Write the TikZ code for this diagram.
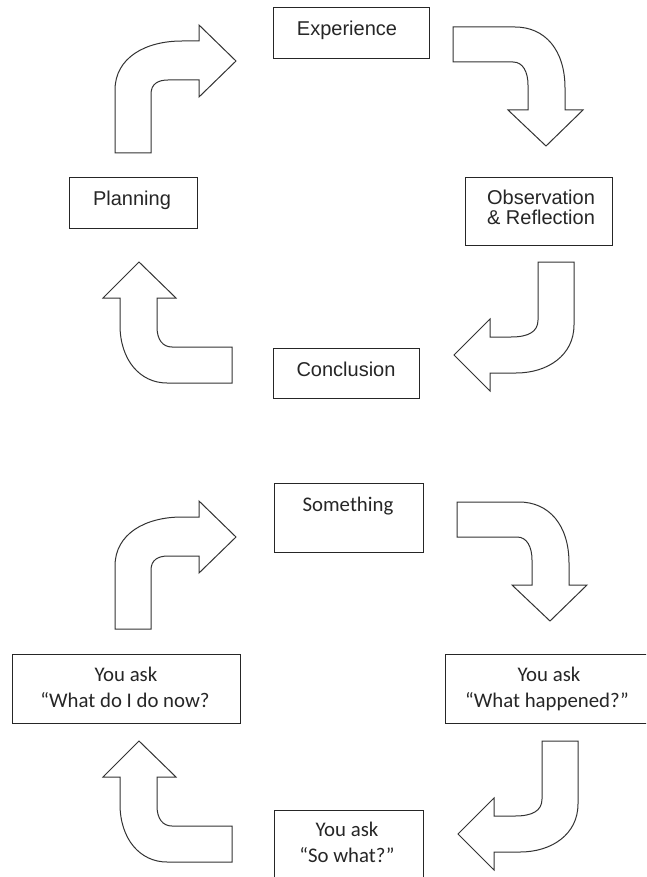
\documentclass[tikz,border=0pt]{standalone}
\usepackage{fontspec}
\setmainfont{Liberation Sans}
\newfontfamily\calfont{Carlito}
\begin{document}
\begin{tikzpicture}[x=1pt,y=-1pt,
  box/.style={draw=black!85, line width=1pt, fill=white, inner sep=0pt},
  bentarrow/.style={draw=black!80, line width=1pt, fill=white, line join=miter},
  ttxt/.style={font=\fontsize{20}{20}\selectfont, text=black!85, inner sep=0pt, anchor=base},
  btxt/.style={font=\calfont\fontsize{20.8}{20.8}\selectfont, text=black!85, inner sep=0pt, anchor=base},
  % the four bent block arrows of one cycle
  arrowup/.pic={\draw[bentarrow] (115,153) -- (115,90) .. controls (115,58) and (145,41) .. (182,41)
    -- (199,41) -- (199,25) -- (236,61) -- (199,97) -- (199,80) -- (168,80)
    .. controls (158,80) and (151,84) .. (151,94) -- (151,153) -- cycle;},
  arrowright/.pic={\draw[bentarrow] (453,27) -- (453,62) -- (513,62) .. controls (523,62) and (528,72) .. (528,85)
    -- (528,110) -- (508,110) -- (546,146) -- (583,110) -- (565,110) -- (565,88)
    .. controls (565,50) and (545,27) .. (515,27) -- cycle;},
  arrowdown/.pic={\draw[bentarrow] (538,262) -- (574,262) -- (574,325) .. controls (574,355) and (548,373) .. (516,373)
    -- (490,373) -- (490,391) -- (454,355) -- (490,319) -- (490,337) -- (511,337)
    .. controls (528,337) and (538,332) .. (538,320) -- cycle;},
  arrowleft/.pic={\draw[bentarrow] (139,262) -- (176,298) -- (157,298) -- (157,327) .. controls (157,340) and (163,347) .. (172,347)
    -- (232,347) -- (232,383) -- (167,383) .. controls (140,383) and (120,360) .. (120,325)
    -- (120,298) -- (103,298) -- cycle;}]
\clip (0,0) rectangle (646,877);
\fill[white] (0,0) rectangle (646,877);

% ---------- first cycle ----------
\node[box, minimum width=156, minimum height=51] (exp) at (351,33.5) {};
\node[ttxt] (expt) at (347,36) {Experience};

\node[box, minimum width=147, minimum height=67] (obs) at (538.5,211.5) {};
\node[ttxt] (obst1) at (541,205) {Observation};
\node[ttxt] (obst2) at (541,225) {\& Reflection};

\node[box, minimum width=146, minimum height=50] (con) at (346,373) {};
\node[ttxt] (cont) at (346,376) {Conclusion};

\node[box, minimum width=128, minimum height=51] (pla) at (133,203.5) {};
\node[ttxt] (plat) at (132,206) {Planning};

\pic at (0,0) {arrowup};
\pic at (0,0) {arrowright};
\pic at (0,0) {arrowdown};
\pic at (0,0) {arrowleft};

% ---------- second cycle ----------
\node[box, minimum width=149, minimum height=69] (som) at (348.8,517.8) {};
\node[btxt] (somt) at (348,511) {Something};

\node[box, minimum width=202, minimum height=69] (hap) at (546.7,688.8) {};
\node[btxt] (hapt1) at (549,681.7) {You ask};
\node[btxt] (hapt2) at (547,707.3) {“What happened?”};

\node[box, minimum width=149, minimum height=80] (sow) at (348.8,850) {};
\node[btxt] (sowt1) at (347,836.7) {You ask};
\node[btxt] (sowt2) at (347,862.3) {“So what?”};

\node[box, minimum width=228, minimum height=69] (now) at (126.7,688.8) {};
\node[btxt] (nowt1) at (126,681.7) {You ask};
\node[btxt] (nowt2) at (125,707.3) {“What do I do now?};

\pic at (0,476) {arrowup};
\pic at (4,475) {arrowright};
\pic at (4,479) {arrowdown};
\pic at (0,479) {arrowleft};
\end{tikzpicture}
\end{document}
